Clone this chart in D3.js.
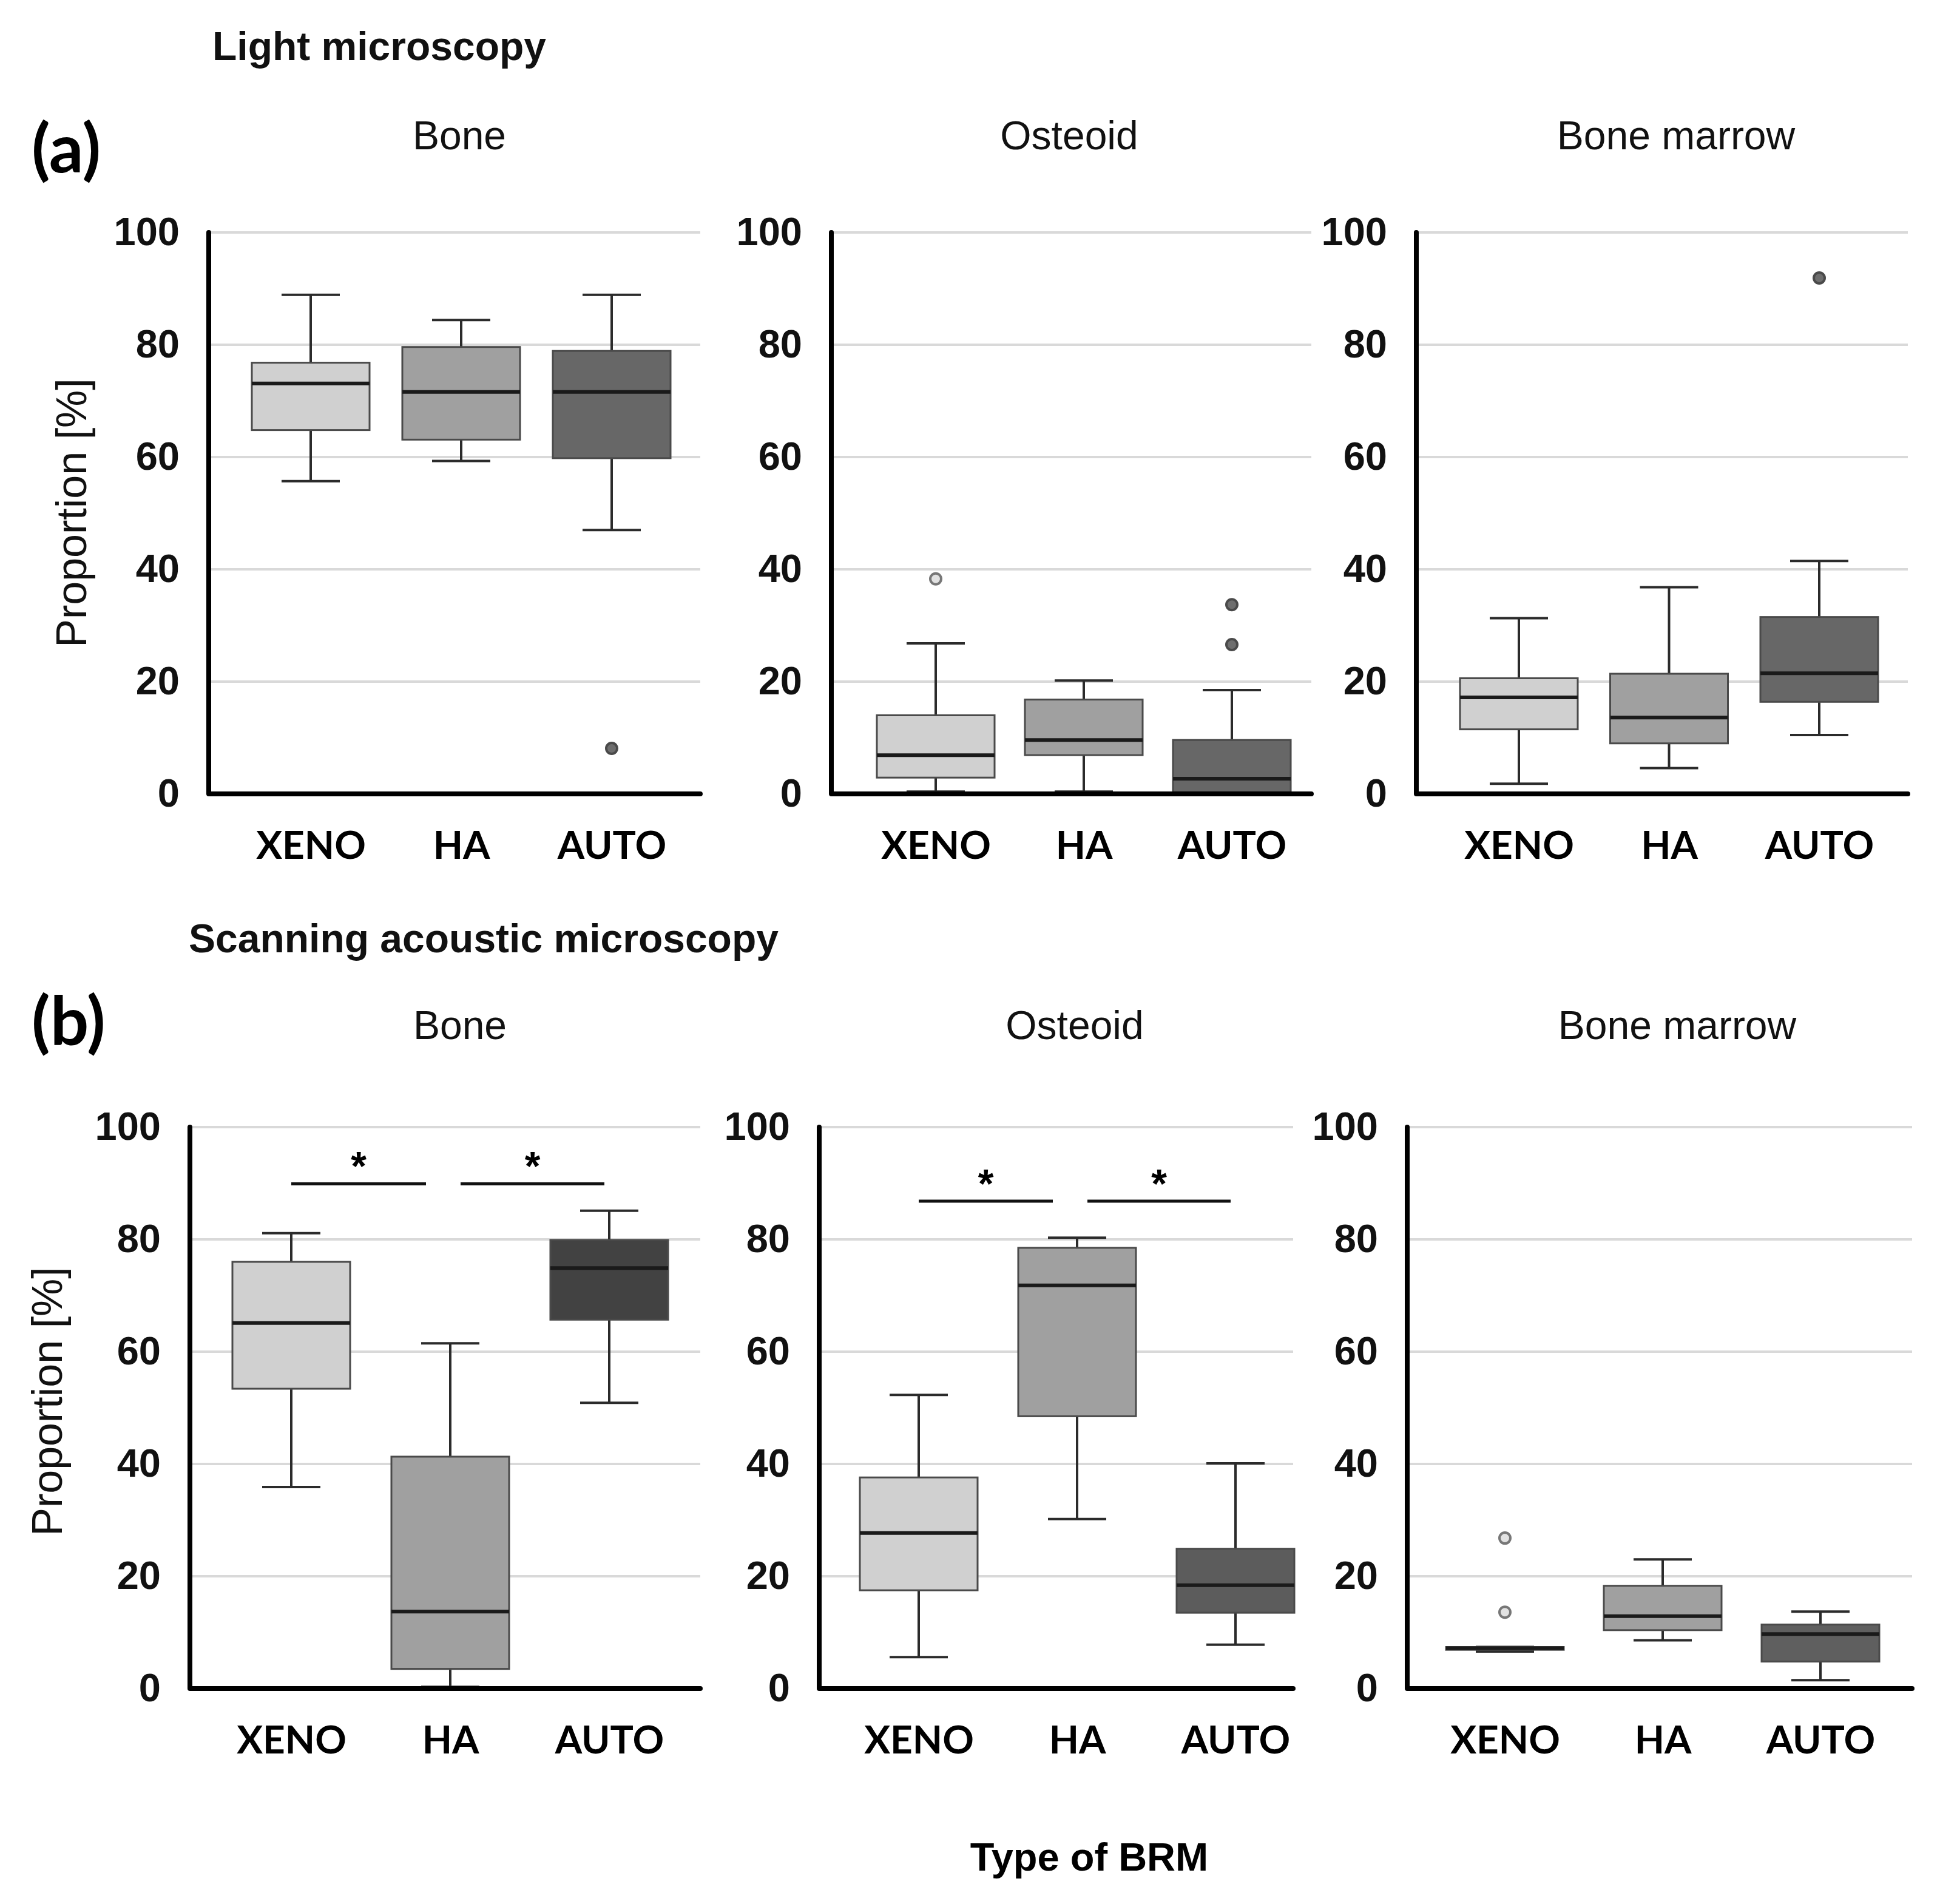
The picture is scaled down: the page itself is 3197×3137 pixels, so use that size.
<!DOCTYPE html>
<html>
<head>
<meta charset="utf-8">
<script src="https://cdn.jsdelivr.net/npm/d3@7"></script>
<style>
  html, body { margin: 0; padding: 0; background: #fff; }
  svg { display: block; }
</style>
</head>
<body>
<svg id="chart" width="3197" height="3137"></svg>
<script>
// ---- data ----
var groups = ["XENO", "HA", "AUTO"];
var tissues = ["Bone", "Osteoid", "Bone marrow"];
var yTicks = [0, 20, 40, 60, 80, 100];

// each box: [whisker low, Q1, median, Q3, whisker high]
var lmBone    = [[55.7, 64.8, 73.1, 76.8, 88.9], [59.3, 63.1, 71.6, 79.6, 84.4], [47.0, 59.8, 71.6, 78.9, 88.9]];
var lmOsteoid = [[0.4, 2.9, 6.9, 14.0, 26.8], [0.4, 6.9, 9.6, 16.8, 20.2], [0.0, 0.3, 2.7, 9.6, 18.5]];
var lmMarrow  = [[1.8, 11.5, 17.2, 20.6, 31.3], [4.6, 9.0, 13.6, 21.4, 36.8], [10.5, 16.4, 21.5, 31.5, 41.5]];
var lmOutliers = [[[], [], [8.1]], [[38.3], [], [33.7, 26.6]], [[], [], [91.9]]];

var samBone    = [[35.9, 53.4, 65.1, 76.0, 81.1], [0.3, 3.5, 13.7, 41.3, 61.5], [50.9, 65.7, 74.9, 79.9, 85.1]];
var samOsteoid = [[5.6, 17.5, 27.7, 37.6, 52.3], [30.2, 48.5, 71.8, 78.5, 80.3], [7.8, 13.5, 18.4, 24.9, 40.1]];
var samMarrow  = [[6.6, 6.9, 7.2, 7.4, 7.4], [8.6, 10.4, 12.9, 18.3, 23.0], [1.5, 4.8, 9.7, 11.4, 13.7]];
var samOutliers = [[[], [], []], [[], [], []], [[26.8, 13.6], [], []]];

// significant pairs (*) and the height of their bars
var samSigPairs = [["XENO", "HA"], ["HA", "AUTO"]];
var samSigLevel = [89.9, 86.8, null];

var rowTitles = ["Light microscopy", "Scanning acoustic microscopy"];
var rowLetters = ["(a)", "(b)"];

// ---- layout ----
var svg = d3.select("#chart");
var NUM_FONT = "'Liberation Sans', Arial, sans-serif";
var LBL_FONT = "Lato, 'Open Sans', sans-serif";

var fills = [
  ["#d0d0d0", "#a0a0a0", "#676767"],
  ["#d0d0d0", "#a0a0a0", "#5f5f5f"]
];
var autoFillB = ["#424242", "#5c5c5c", "#5f5f5f"];

var rows = [
  {
    y100: 383, y0: 1308, titleY: 246, headY: 99, headX: 350, letterY: 284, ylabX: 142, ylabY: 845,
    panels: [
      {axisX: 344, right: 1154, c0: 512, c2: 1008, titleX: 757, data: lmBone, out: lmOutliers[0]},
      {axisX: 1370, right: 2161, c0: 1542, c2: 2030, titleX: 1762, data: lmOsteoid, out: lmOutliers[1]},
      {axisX: 2334, right: 3144, c0: 2503, c2: 2998, titleX: 2762, data: lmMarrow, out: lmOutliers[2]}
    ]
  },
  {
    y100: 1857, y0: 2782, titleY: 1712, headY: 1569, headX: 311, letterY: 1722, ylabX: 102, ylabY: 2309,
    panels: [
      {axisX: 313, right: 1154, c0: 480, c2: 1004, titleX: 758, data: samBone, out: samOutliers[0], sig: samSigLevel[0]},
      {axisX: 1350, right: 2131, c0: 1514, c2: 2036, titleX: 1771, data: samOsteoid, out: samOutliers[1], sig: samSigLevel[1]},
      {axisX: 2319, right: 3151, c0: 2480, c2: 3000, titleX: 2764, data: samMarrow, out: samOutliers[2], sig: samSigLevel[2]}
    ]
  }
];

var boxW = 194, capW = 96;

function drawPanel(g, row, p, ri, pi) {
  var y = d3.scaleLinear().domain([0, 100]).range([row.y0, row.y100]);
  var x = d3.scalePoint().domain(groups).range([p.c0, p.c2]);

  // gridlines
  g.append("g").selectAll("line")
    .data(yTicks.filter(function (t) { return t > 0; }))
    .join("line")
    .attr("x1", p.axisX).attr("x2", p.right)
    .attr("y1", function (d) { return y(d); })
    .attr("y2", function (d) { return y(d); })
    .attr("stroke", "#d9d9d9").attr("stroke-width", 4);

  // y tick labels
  var ya = g.append("g")
    .attr("transform", "translate(" + p.axisX + ",0)")
    .call(d3.axisLeft(y).tickValues(yTicks).tickSize(0).tickPadding(48));
  ya.select(".domain").remove();
  ya.selectAll("text")
    .attr("font-family", NUM_FONT).attr("font-size", 65).attr("font-weight", "bold").attr("fill", "#111");

  // x labels
  var xa = g.append("g")
    .attr("transform", "translate(0," + row.y0 + ")")
    .call(d3.axisBottom(x).tickSize(0));
  xa.select(".domain").remove();
  xa.selectAll("text")
    .attr("y", 107).attr("dy", 0)
    .attr("font-family", LBL_FONT).attr("font-size", 64).attr("font-weight", "bold").attr("fill", "#000");

  // boxes
  var boxes = g.append("g").selectAll("g")
    .data(p.data.map(function (d, i) { return {k: groups[i], v: d, i: i, out: p.out[i]}; }))
    .join("g");

  function fillOf(d) {
    if (d.i === 2 && ri === 1) return autoFillB[pi];
    return fills[ri][d.i];
  }

  boxes.append("line")
    .attr("x1", function (d) { return x(d.k); }).attr("x2", function (d) { return x(d.k); })
    .attr("y1", function (d) { return y(d.v[4]); }).attr("y2", function (d) { return y(d.v[0]); })
    .attr("stroke", "#2b2b2b").attr("stroke-width", 4);
  [0, 4].forEach(function (j) {
    boxes.append("line")
      .attr("x1", function (d) { return x(d.k) - capW / 2; })
      .attr("x2", function (d) { return x(d.k) + capW / 2; })
      .attr("y1", function (d) { return y(d.v[j]); })
      .attr("y2", function (d) { return y(d.v[j]); })
      .attr("stroke", "#2b2b2b").attr("stroke-width", 4);
  });
  boxes.append("rect")
    .attr("x", function (d) { return x(d.k) - boxW / 2; })
    .attr("width", boxW)
    .attr("y", function (d) { return y(d.v[3]); })
    .attr("height", function (d) { return y(d.v[1]) - y(d.v[3]); })
    .attr("fill", fillOf)
    .attr("stroke", "#4a4a4a").attr("stroke-width", 3);
  boxes.append("line")
    .attr("x1", function (d) { return x(d.k) - boxW / 2; })
    .attr("x2", function (d) { return x(d.k) + boxW / 2; })
    .attr("y1", function (d) { return y(d.v[2]); })
    .attr("y2", function (d) { return y(d.v[2]); })
    .attr("stroke", "#1a1a1a").attr("stroke-width", 6);

  boxes.each(function (d) {
    d3.select(this).selectAll("circle")
      .data(d.out)
      .join("circle")
      .attr("cx", x(d.k)).attr("cy", function (v) { return y(v); })
      .attr("r", 9)
      .attr("fill", d.i === 0 ? "#e2e2e2" : "#6e6e6e")
      .attr("stroke", d.i === 0 ? "#777" : "#4a4a4a")
      .attr("stroke-width", 4);
  });

  // significance bars
  if (p.sig != null) {
    var offs = [[0, -40], [17, -8]];
    var sg = g.append("g").selectAll("g").data(samSigPairs).join("g");
    sg.append("line")
      .attr("x1", function (d, i) { return x(d[0]) + offs[i][0]; })
      .attr("x2", function (d, i) { return x(d[1]) + offs[i][1]; })
      .attr("y1", y(p.sig)).attr("y2", y(p.sig))
      .attr("stroke", "#111").attr("stroke-width", 5);
    sg.append("text")
      .attr("x", function (d, i) { return (x(d[0]) + offs[i][0] + x(d[1]) + offs[i][1]) / 2; })
      .attr("y", y(p.sig) - 6)
      .attr("text-anchor", "middle")
      .attr("font-family", NUM_FONT).attr("font-size", 66).attr("font-weight", "bold")
      .text("*");
  }

  // axis lines
  g.append("path")
    .attr("d", "M" + p.axisX + "," + y(100) + "V" + y(0) + "H" + p.right)
    .attr("fill", "none").attr("stroke", "#000").attr("stroke-width", 8)
    .attr("stroke-linejoin", "round").attr("stroke-linecap", "round");

  // panel title
  g.append("text")
    .attr("x", p.titleX).attr("y", row.titleY)
    .attr("text-anchor", "middle")
    .attr("font-family", NUM_FONT).attr("font-size", 66).attr("fill", "#111")
    .text(tissues[pi]);
}

rows.forEach(function (row, ri) {
  var rg = svg.append("g");
  row.panels.forEach(function (p, pi) { drawPanel(rg.append("g"), row, p, ri, pi); });

  rg.append("text")
    .attr("x", 52).attr("y", row.headY)
    .attr("x", row.headX)
    .attr("font-family", NUM_FONT).attr("font-size", 66).attr("font-weight", "bold").attr("fill", "#111")
    .text(rowTitles[ri]);

  rg.append("text")
    .attr("x", 52).attr("y", row.letterY)
    .attr("font-family", LBL_FONT).attr("font-size", 112).attr("font-weight", "bold").attr("fill", "#000")
    .text(rowLetters[ri]);

  rg.append("text")
    .attr("transform", "translate(" + row.ylabX + "," + row.ylabY + ") rotate(-90)")
    .attr("text-anchor", "middle")
    .attr("font-family", NUM_FONT).attr("font-size", 70).attr("fill", "#111")
    .text("Proportion [%]");
});

svg.append("text")
  .attr("x", 1795).attr("y", 3082)
  .attr("text-anchor", "middle")
  .attr("font-family", NUM_FONT).attr("font-size", 65).attr("font-weight", "bold").attr("fill", "#000")
  .text("Type of BRM");
</script>
</body>
</html>
